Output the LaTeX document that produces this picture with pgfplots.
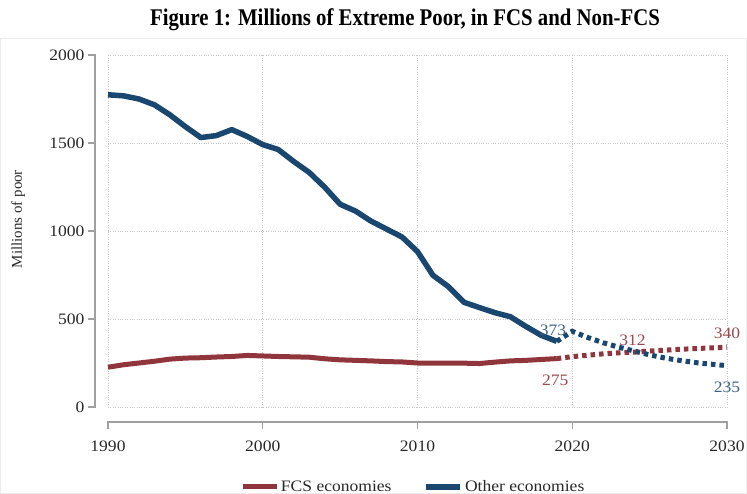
\documentclass[border=0pt]{standalone}
\usepackage{fontspec}
\setmainfont{Liberation Serif}[FakeStretch=1.1]
\newfontfamily\titlefont{Liberation Serif}[FakeStretch=0.87]
\newfontfamily\plainfont{Liberation Serif}
\usepackage{pgfplots}
\pgfplotsset{compat=1.18}
\definecolor{fcsred}{RGB}{144,53,59}
\definecolor{othblue}{RGB}{26,71,111}
\definecolor{axgray}{RGB}{160,160,160}
\definecolor{gridgray}{RGB}{200,200,200}
\definecolor{labgray}{RGB}{40,40,40}
\begin{document}
\begin{tikzpicture}
\begin{axis}[
  at={(0,0)}, anchor=south west,
  scale only axis, width=619bp, height=352bp,
  xmin=1990, xmax=2030, ymin=0, ymax=2000,
  enlargelimits=false, clip=false,
  axis lines*=left,
  axis line style={draw=none},
  xtick={1990,2000,2010,2020,2030},
  ytick={0,500,1000,1500,2000},
  tick align=outside, major tick length=6bp,
  tick style={draw=none},
  grid=major,
  major grid style={gridgray, dotted, line width=0.9bp},
  /pgf/number format/assume math mode=true,
  /pgf/number format/1000 sep={},
  tick label style={font=\fontsize{16}{18}\selectfont, text=labgray},
  xticklabel style={yshift=-24bp},
  yticklabel style={xshift=-14bp},
  ylabel={\plainfont\fontsize{15}{17}\selectfont Millions of poor},
  ylabel style={at={(rel axis cs:-0.145,0.534)}, anchor=center, rotate=0, text=labgray},
  legend style={at={(rel axis cs:0.493,-0.227)}, anchor=center, draw=none,
    fill=none, font=\fontsize{16}{18}\selectfont, text=labgray,
    legend columns=2,
    /tikz/every even column/.append style={column sep=30bp}},
  legend image code/.code={\draw[#1] (0bp,0bp) -- (34bp,0bp);},
]
\addplot[fcsred, line width=5bp, line join=round] coordinates {
(1990,226) (1991,240) (1992,250) (1993,260) (1994,272) (1995,278)
(1996,280) (1997,284) (1998,287) (1999,293) (2000,290) (2001,287)
(2002,285) (2003,283) (2004,274) (2005,268) (2006,265) (2007,262)
(2008,258) (2009,256) (2010,250) (2011,249) (2012,250) (2013,249)
(2014,247) (2015,255) (2016,262) (2017,265) (2018,270) (2019,275)
};
\addlegendentry{FCS economies}
\addplot[othblue, line width=5.5bp, line join=round] coordinates {
(1990,1774) (1991,1768) (1992,1750) (1993,1717) (1994,1660) (1995,1593)
(1996,1531) (1997,1542) (1998,1576) (1999,1537) (2000,1491) (2001,1463)
(2002,1395) (2003,1333) (2004,1249) (2005,1152) (2006,1113) (2007,1056)
(2008,1011) (2009,966) (2010,883) (2011,748) (2012,684) (2013,595)
(2014,565) (2015,536) (2016,513) (2017,458) (2018,407) (2019,373)
};
\addlegendentry{Other economies}
\addplot[fcsred, line width=5bp, dash pattern=on 4.5bp off 4bp, forget plot] coordinates {
(2019,275) (2020,286) (2021,294) (2022,302) (2023,308) (2024,312)
(2025,318) (2026,323) (2027,328) (2028,332) (2029,336) (2030,340)
};
\addplot[othblue, line width=5bp, dash pattern=on 4.5bp off 4bp, forget plot] coordinates {
(2019,373) (2020,430) (2021,395) (2022,365) (2023,340) (2024,318)
(2025,296) (2026,278) (2027,264) (2028,252) (2029,243) (2030,235)
};
\node[text=othblue!85!white, font=\fontsize{16}{18}\selectfont] at (axis cs:2018.75,437) {373};
\node[text=fcsred!90!white, font=\fontsize{16}{18}\selectfont] at (axis cs:2018.9,153) {275};
\node[text=fcsred!90!white, font=\fontsize{16}{18}\selectfont] at (axis cs:2023.9,381) {312};
\node[text=fcsred!90!white, font=\fontsize{16}{18}\selectfont] at (axis cs:2030,420) {340};
\node[text=othblue!85!white, font=\fontsize{16}{18}\selectfont] at (axis cs:2030,114) {235};
\end{axis}
% offset axis lines (Stata style)
\begin{scope}[axgray, line width=1.3bp, line cap=rect]
\draw (0bp,-15bp) -- (619bp,-15bp);
\foreach \t in {0,154.75,309.5,464.25,619} \draw (\t bp,-15bp) -- (\t bp,-21bp);
\draw (-13bp,0bp) -- (-13bp,352bp);
\foreach \t in {0,88,176,264,352} \draw (-13bp,\t bp) -- (-19bp,\t bp);
\end{scope}
\node[font=\titlefont\bfseries\fontsize{24}{28}\selectfont] at (297bp,387bp) {Figure 1: Millions of Extreme Poor, in FCS and Non-FCS};
\draw[gray!15, line width=0.8bp] (-107.5bp,-86.5bp) rectangle (638.5bp,369bp);
\pgfresetboundingbox
\useasboundingbox (-108bp,-87bp) rectangle (639bp,407bp);
\end{tikzpicture}
\end{document}
